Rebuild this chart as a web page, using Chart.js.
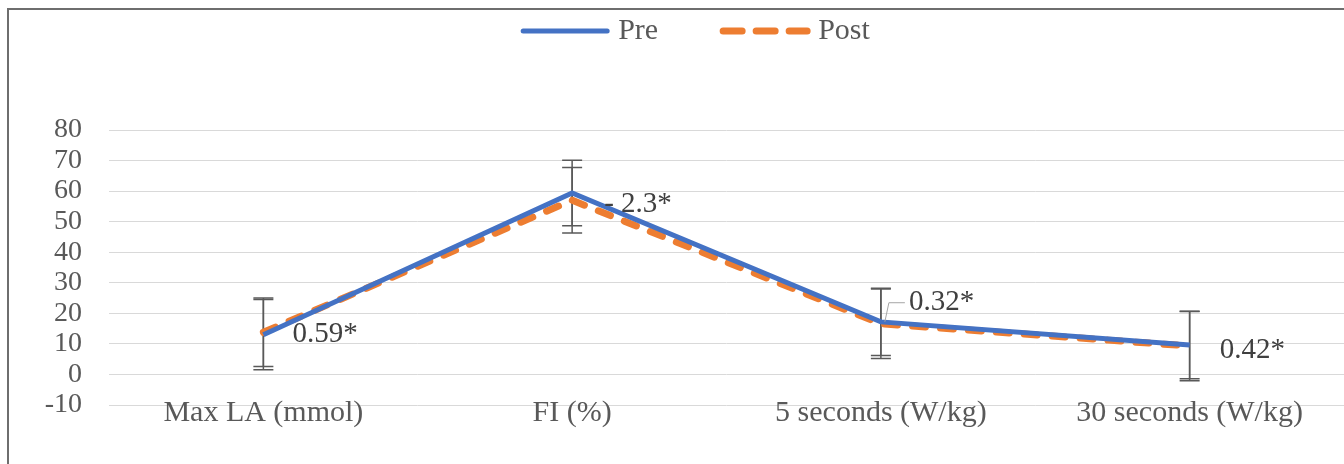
<!DOCTYPE html>
<html lang="en">
<head>
<meta charset="UTF-8">
<title>Pre vs Post</title>
<style>
  body { margin: 0; background: #fff; }
  .wrap { position: relative; width: 1344px; height: 464px; overflow: hidden; }
  .frame { position: absolute; left: 7px; top: 8px; width: 1345px; height: 470px;
           border: 2px solid #6e6e6e; box-sizing: border-box; }
  canvas { position: absolute; left: 0; top: 0; }
</style>
<script src="https://cdn.jsdelivr.net/npm/chart.js"></script>
</head>
<body>
<div class="wrap">
  <div class="frame"></div>
  <canvas id="chart" width="1344" height="464"></canvas>
</div>
<script>
  const categories = ['Max LA (mmol)', 'FI (%)', '5 seconds (W/kg)', '30 seconds (W/kg)'];
  const preValues = [13.0, 59.4, 17.2, 9.6];
  const postValues = [13.8, 57.0, 16.6, 9.3];
  const preSd = [11.5, 10.7, 11.0, 11.0];
  const postSd = [11.2, 10.7, 11.4, 11.4];
  const changeLabels = ['0.59*', '- 2.3*', '0.32*', '0.42*'];
  const yTicks = [-10, 0, 10, 20, 30, 40, 50, 60, 70, 80];

  const FONT = '"Liberation Serif", "Times New Roman", serif';
  const TEXT = '#595959';

  // error bars drawn behind the lines
  const errorBars = {
    id: 'errorBars',
    beforeDatasetsDraw(chart) {
      const {ctx, scales: {x, y}} = chart;
      ctx.save();
      ctx.strokeStyle = '#595959';
      ctx.lineWidth = 1.5;
      [[preValues, preSd], [postValues, postSd]].forEach(([vals, sds]) => {
        vals.forEach((v, i) => {
          const px = x.getPixelForValue(i);
          const top = y.getPixelForValue(v + sds[i]);
          const bot = y.getPixelForValue(v - sds[i]);
          ctx.beginPath();
          ctx.moveTo(px, top); ctx.lineTo(px, bot);
          ctx.moveTo(px - 10, top); ctx.lineTo(px + 10, top);
          ctx.moveTo(px - 10, bot); ctx.lineTo(px + 10, bot);
          ctx.stroke();
        });
      });
      ctx.restore();
    }
  };

  // category labels (they sit over the bottom gridline, like the original),
  // change labels next to the Post points, and the legend
  const labelsAndLegend = {
    id: 'labelsAndLegend',
    afterDatasetsDraw(chart) {
      const {ctx, chartArea, scales: {x, y}} = chart;
      ctx.save();
      ctx.textBaseline = 'middle';

      ctx.font = '30px ' + FONT;
      ctx.fillStyle = TEXT;
      ctx.textAlign = 'center';
      categories.forEach((c, i) => {
        ctx.fillText(c, x.getPixelForValue(i), chartArea.bottom + 8);
      });
      ctx.textAlign = 'left';

      const offsets = [[29, 2], [32, 4], [28, -21], [30, 4]];
      ctx.font = '29px ' + FONT;
      ctx.fillStyle = '#404040';
      changeLabels.forEach((t, i) => {
        const px = x.getPixelForValue(i);
        const py = y.getPixelForValue(postValues[i]);
        ctx.fillText(t, px + offsets[i][0], py + offsets[i][1]);
      });
      // leader line for the 5 seconds label
      const lx = x.getPixelForValue(2), ly = y.getPixelForValue(postValues[2]);
      ctx.strokeStyle = '#a6a6a6';
      ctx.lineWidth = 1;
      ctx.beginPath();
      ctx.moveTo(lx + 4, ly - 2);
      ctx.lineTo(lx + 8, ly - 21);
      ctx.lineTo(lx + 24, ly - 21);
      ctx.stroke();

      // legend
      ctx.font = '30px ' + FONT;
      const items = chart.data.datasets;
      const lineLen = 90, gap = 8, spacing = 62;
      const widths = items.map(d => lineLen + gap + ctx.measureText(d.label).width);
      const total = widths.reduce((a, b) => a + b, 0) + spacing * (items.length - 1);
      let cx = 695 - total / 2;
      const ly2 = 31;
      items.forEach((d, i) => {
        ctx.strokeStyle = d.borderColor;
        ctx.lineWidth = d.borderWidth;
        ctx.lineCap = 'round';
        ctx.setLineDash(d.borderDash ? [19, 14] : []);
        ctx.beginPath();
        ctx.moveTo(cx + 3, ly2); ctx.lineTo(cx + lineLen - 3, ly2);
        ctx.stroke();
        ctx.setLineDash([]);
        ctx.fillStyle = TEXT;
        ctx.fillText(d.label, cx + lineLen + gap, ly2);
        cx += widths[i] + spacing;
      });
      ctx.restore();
    }
  };

  new Chart(document.getElementById('chart'), {
    type: 'line',
    data: {
      labels: categories,
      datasets: [
        {
          label: 'Pre',
          data: preValues,
          borderColor: '#4472C4',
          backgroundColor: '#4472C4',
          borderWidth: 5,
          pointRadius: 0,
          tension: 0
        },
        {
          label: 'Post',
          data: postValues,
          borderColor: '#ED7D31',
          backgroundColor: '#ED7D31',
          borderWidth: 7,
          borderDash: [13, 15],
          borderCapStyle: 'round',
          pointRadius: 0,
          tension: 0
        }
      ]
    },
    options: {
      responsive: false,
      animation: false,
      devicePixelRatio: 1,
      layout: { padding: { top: 130, right: 0, bottom: 59, left: 0 } },
      plugins: {
        legend: { display: false },
        tooltip: { enabled: false }
      },
      scales: {
        x: {
          offset: true,
          grid: { display: false, drawTicks: false },
          border: { display: false },
          ticks: { display: false }
        },
        y: {
          min: -10,
          max: 80,
          afterBuildTicks: s => { s.ticks = yTicks.map(v => ({ value: v })); },
          afterFit: s => { s.width = 109; },
          grid: { color: '#d9d9d9', lineWidth: 1, drawTicks: false },
          border: { display: false },
          ticks: { font: { family: FONT, size: 28, lineHeight: 1 }, color: TEXT, padding: 27, autoSkip: false }
        }
      }
    },
    plugins: [errorBars, labelsAndLegend]
  });
</script>
</body>
</html>
